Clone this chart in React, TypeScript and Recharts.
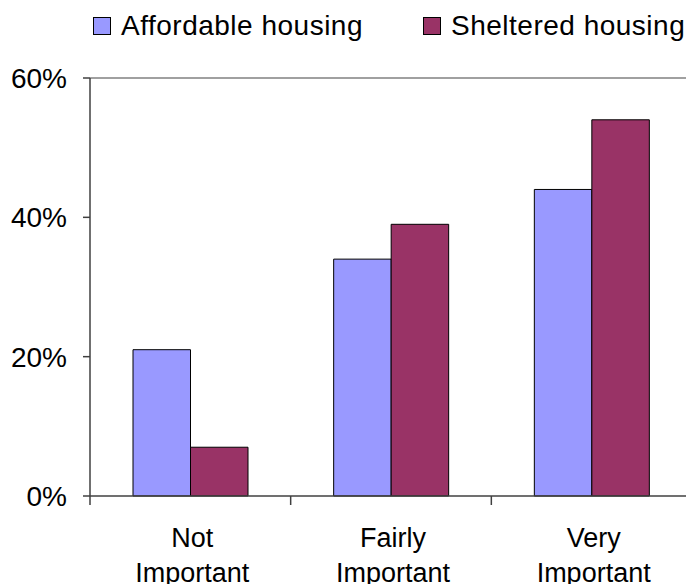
import React from "react";
import { Bar, BarChart, ReferenceLine, XAxis, YAxis } from "recharts";

const categories = ["Not Important", "Fairly Important", "Very Important"];
const affordable = [0.21, 0.34, 0.44];
const sheltered = [0.07, 0.39, 0.54];
const yTicks = [0, 0.2, 0.4, 0.6];
const seriesNames = ["Affordable housing", "Sheltered housing"];
const seriesColors = ["#9999FF", "#993366"];

const FONT = "'Liberation Sans', Arial, sans-serif";
const AXIS = "#404040";

const data = categories.map((c, i) => ({
  category: c,
  affordable: affordable[i],
  sheltered: sheltered[i],
}));

const pct = (v: number) => `${Math.round(v * 100)}%`;

/** Two-line category label plus a tick mark on the left edge of the band. */
function CategoryTick(props: any) {
  const { x, y, payload } = props;
  const words = String(payload.value).split(" ");
  const off = typeof payload.offset === "number" ? payload.offset : 0;
  return (
    <g>
      {off > 0 && (
        <line x1={x - off} x2={x - off} y1={y} y2={y + 9} stroke={AXIS} strokeWidth={1.5} />
      )}
      <text textAnchor="middle" fontFamily={FONT} fontSize={27} fill="#000">
        {words.map((w, i) => (
          <tspan key={i} x={x + 2} y={y + 51 + i * 35}>
            {w}
          </tspan>
        ))}
      </text>
    </g>
  );
}

function LegendRow() {
  return (
    <div
      style={{
        position: "absolute",
        left: 93,
        top: 10,
        display: "flex",
        alignItems: "center",
        fontFamily: FONT,
        fontSize: 28,
        letterSpacing: 0.5,
        color: "#000",
        whiteSpace: "nowrap",
      }}
    >
      {seriesNames.map((name, i) => (
        <div key={name} style={{ display: "flex", alignItems: "center", marginRight: i === 0 ? 60 : 0 }}>
          <span
            style={{
              width: 16,
              height: 16,
              background: seriesColors[i],
              border: "1.5px solid #000",
              marginRight: 10,
              display: "inline-block",
            }}
          />
          <span>{name}</span>
        </div>
      ))}
    </div>
  );
}

export default function App() {
  return (
    <div
      style={{
        position: "absolute",
        left: 0,
        top: 0,
        width: 686,
        height: 584,
        overflow: "hidden",
        background: "#fff",
      }}
    >
      <LegendRow />
      <BarChart
        width={694}
        height={584}
        data={data}
        margin={{ top: 78, right: 2, bottom: 0, left: 0 }}
        barGap={0}
      >
        <XAxis
          dataKey="category"
          height={88}
          interval={0}
          tickLine={false}
          tickSize={0}
          tickMargin={0}
          axisLine={{ stroke: AXIS, strokeWidth: 1.5 }}
          tick={<CategoryTick />}
        />
        <YAxis
          width={90}
          domain={[0, 0.6]}
          ticks={yTicks}
          tickFormatter={(v) => pct(Number(v))}
          tickSize={7}
          tickMargin={16}
          tickLine={{ stroke: AXIS, strokeWidth: 1.5 }}
          axisLine={{ stroke: AXIS, strokeWidth: 1.5 }}
          tick={{ fontFamily: FONT, fontSize: 28, fill: "#000" }}
        />
        <ReferenceLine y={0.6} stroke="#808080" strokeWidth={1.5} />
        <Bar
          dataKey="affordable"
          name={seriesNames[0]}
          fill={seriesColors[0]}
          stroke="#000"
          strokeWidth={1}
          barSize={57.5}
          isAnimationActive={false}
        />
        <Bar
          dataKey="sheltered"
          name={seriesNames[1]}
          fill={seriesColors[1]}
          stroke="#000"
          strokeWidth={1}
          barSize={57.5}
          isAnimationActive={false}
        />
      </BarChart>
    </div>
  );
}
